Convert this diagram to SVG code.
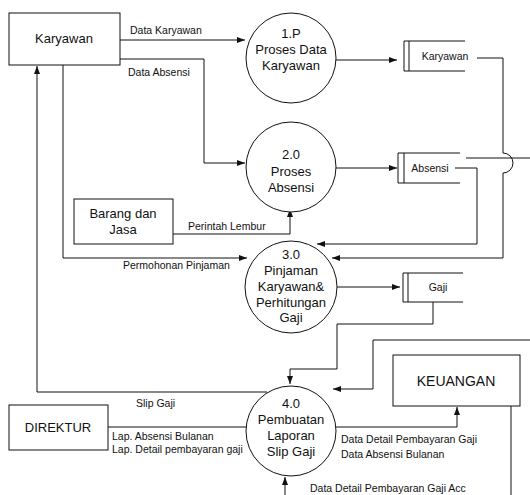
<svg xmlns="http://www.w3.org/2000/svg" width="530" height="495" viewBox="0 0 530 495">
  <style>
    .box { fill: #fff; stroke: #111; stroke-width: 1; }
    .proc { fill: #fff; stroke: #111; stroke-width: 1; }
    .store { fill: none; stroke: #111; stroke-width: 1; }
    .flow { fill: none; stroke: #111; stroke-width: 1; }
    .arrow { marker-end: url(#head); }
    .t13 { font-family: "Liberation Sans", Arial, sans-serif; font-size: 13px; fill: #111; text-anchor: middle; }
    .t14 { font-family: "Liberation Sans", Arial, sans-serif; font-size: 14px; fill: #111; text-anchor: middle; }
    .lbl { font-family: "Liberation Sans", Arial, sans-serif; font-size: 10.5px; fill: #111; }
    .slbl { font-family: "Liberation Sans", Arial, sans-serif; font-size: 10.5px; fill: #111; text-anchor: middle; }
  </style>
  <defs>
    <marker id="head" markerUnits="userSpaceOnUse" markerWidth="8" markerHeight="6" refX="8" refY="3" orient="auto">
      <path d="M0,0 L8,3 L0,6 z" fill="#111"/>
    </marker>
  </defs>

  <rect width="530" height="495" fill="#fff"/>

  <!-- data flows -->
  <g id="connectors">
    <path class="flow arrow" d="M120,40 H245"/>
    <path class="flow arrow" d="M120,59 H204 V163 H245"/>
    <path class="flow arrow" d="M336,60 H397"/>
    <path class="flow arrow" d="M477,58 H503 V153 A10,10 0 0 1 503,173 V258 H332"/>
    <path class="flow" d="M466,158 H530"/>
    <path class="flow arrow" d="M336,168 H397"/>
    <path class="flow arrow" d="M455,168 H477 V244 H317"/>
    <path class="flow arrow" d="M173,234 H290 V209"/>
    <path class="flow arrow" d="M63,65 V258 H247"/>
    <path class="flow arrow" d="M337,287 H400"/>
    <path class="flow arrow" d="M433,302 V324 H337 V369 H290 V384"/>
    <path class="flow arrow" d="M530,340 H373 V389 H333"/>
    <path class="flow arrow" d="M267,392 H37 V66"/>
    <path class="flow" d="M108,427 H246"/>
    <path class="flow arrow" d="M336,427 H457 V407"/>
    <path class="flow" d="M511,406 V495"/>
    <path class="flow arrow" d="M285,495 V477"/>

    <text class="lbl" x="130" y="34">Data Karyawan</text>
    <text class="lbl" x="128" y="76">Data Absensi</text>
    <text class="lbl" x="188" y="230">Perintah Lembur</text>
    <text class="lbl" x="123" y="269">Permohonan Pinjaman</text>
    <text class="lbl" x="136" y="407">Slip Gaji</text>
    <text class="lbl" x="112" y="440">Lap. Absensi Bulanan</text>
    <text class="lbl" x="112" y="453">Lap. Detail pembayaran gaji</text>
    <text class="lbl" x="341" y="443">Data Detail Pembayaran Gaji</text>
    <text class="lbl" x="341" y="458">Data Absensi Bulanan</text>
    <text class="lbl" x="310" y="492">Data Detail Pembayaran Gaji Acc</text>
  </g>

  <!-- external entities -->
  <g id="ent-karyawan">
    <rect class="box" x="9" y="13" width="111" height="52"/>
    <text class="t13" x="64" y="43">Karyawan</text>
  </g>
  <g id="ent-barang-jasa">
    <rect class="box" x="74" y="199" width="99" height="45"/>
    <text class="t13" x="123" y="218">Barang dan</text>
    <text class="t13" x="123" y="234">Jasa</text>
  </g>
  <g id="ent-direktur">
    <rect class="box" x="9" y="405" width="99" height="45"/>
    <text class="t13" x="58" y="432">DIREKTUR</text>
  </g>
  <g id="ent-keuangan">
    <rect class="box" x="393" y="355" width="127" height="51"/>
    <text class="t14" x="456" y="386">KEUANGAN</text>
  </g>

  <!-- processes -->
  <g id="proc-1">
    <circle class="proc" cx="291" cy="58" r="45"/>
    <text class="t13" x="291" y="38">1.P</text>
    <text class="t13" x="291" y="54">Proses Data</text>
    <text class="t13" x="291" y="70">Karyawan</text>
  </g>
  <g id="proc-2">
    <circle class="proc" cx="291" cy="167" r="45"/>
    <text class="t13" x="291" y="159">2.0</text>
    <text class="t13" x="291" y="176">Proses</text>
    <text class="t13" x="291" y="192">Absensi</text>
  </g>
  <g id="proc-3">
    <circle class="proc" cx="291" cy="287" r="46"/>
    <text class="t13" x="291" y="259">3.0</text>
    <text class="t13" x="291" y="275">Pinjaman</text>
    <text class="t13" x="291" y="291">Karyawan&amp;</text>
    <text class="t13" x="291" y="307">Perhitungan</text>
    <text class="t13" x="291" y="322">Gaji</text>
  </g>
  <g id="proc-4">
    <circle class="proc" cx="291" cy="431" r="45"/>
    <text class="t13" x="291" y="408">4.0</text>
    <text class="t13" x="291" y="424">Pembuatan</text>
    <text class="t13" x="291" y="440">Laporan</text>
    <text class="t13" x="291" y="456">Slip Gaji</text>
  </g>

  <!-- data stores -->
  <g id="store-karyawan">
    <path class="store" d="M465,41 H404 V71 H465 M409,41 V71"/>
    <text class="slbl" x="445" y="60">Karyawan</text>
  </g>
  <g id="store-absensi">
    <path class="store" d="M460,153 H398 V183 H460 M404,153 V183"/>
    <text class="slbl" x="430" y="172">Absensi</text>
  </g>
  <g id="store-gaji">
    <path class="store" d="M463,273 H403 V302 H463 M408,273 V302"/>
    <text class="slbl" x="438" y="291">Gaji</text>
  </g>
</svg>
